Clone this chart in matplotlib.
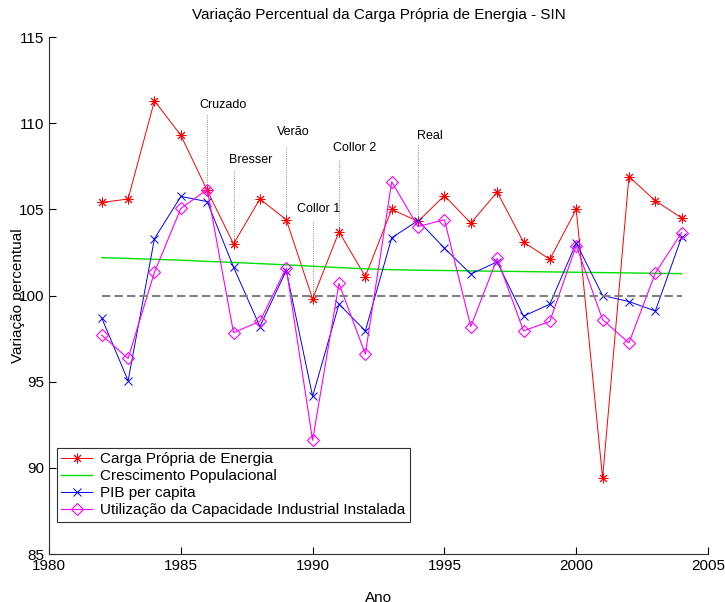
import matplotlib
matplotlib.use("Agg")
import matplotlib.pyplot as plt

plt.rcParams['font.family'] = ['Liberation Sans', 'DejaVu Sans']

# dados
anos = list(range(1982, 2005))

carga = [105.4, 105.6, 111.3, 109.3, 106.1, 103.0, 105.6, 104.4, 99.8, 103.7, 101.1,
         105.0, 104.3, 105.8, 104.2, 106.0, 103.1, 102.1, 105.0, 89.4, 106.9, 105.5, 104.5]
populacao = [102.2, 102.15, 102.1, 102.05, 101.98, 101.92, 101.85, 101.78, 101.7, 101.62, 101.55,
             101.5, 101.47, 101.45, 101.43, 101.41, 101.39, 101.37, 101.35, 101.33, 101.31, 101.29, 101.27]
pib = [98.7, 95.05, 103.3, 105.75, 105.45, 101.65, 98.2, 101.45, 94.15, 99.5, 97.95,
       103.35, 104.35, 102.75, 101.25, 101.95, 98.8, 99.5, 103.05, 100.0, 99.65, 99.1, 103.4]
capacidade = [97.7, 96.35, 101.35, 105.05, 106.15, 97.85, 98.5, 101.6, 91.6, 100.7, 96.6,
              106.6, 104.0, 104.4, 98.2, 102.15, 97.95, 98.5, 102.9, 98.6, 97.25, 101.3, 103.65]

# planos economicos: ano da linha, x do texto, y do texto, topo da linha
planos = ['Cruzado', 'Bresser', 'Verão', 'Collor 1', 'Collor 2', 'Real']
planos_ano = [1986, 1987, 1989, 1990, 1991, 1994]
planos_xtexto = [1985.7, 1986.83, 1988.63, 1989.42, 1990.79, 1993.95]
planos_ytexto = [111.08, 107.87, 109.46, 105.03, 108.55, 109.26]
planos_ytopo = [110.5, 107.25, 108.6, 104.25, 107.87, 108.75]

fig = plt.figure(figsize=(7.25, 6.02), dpi=100)
ax = fig.add_axes([0.0676, 0.0797, 0.9090, 0.8588])

ax.plot(anos, carga, color='#ff0000', lw=0.7, marker=(8, 2, 0), ms=7, mew=0.7,
        label='Carga Própria de Energia')
ax.plot(anos, populacao, color='#00e000', lw=1.0, label='Crescimento Populacional')
ax.plot(anos, pib, color='#0000ff', lw=0.7, marker='x', ms=6, mew=0.7,
        label='PIB per capita')
ax.plot(anos, capacidade, color='#ff00ff', lw=0.8, marker='D', ms=6.5, mew=0.8,
        mfc='none', label='Utilização da Capacidade Industrial Instalada')

# referencia de 100%
ax.plot([anos[0], anos[-1]], [100, 100], color='#808080', lw=1.5, ls='--', dashes=(4, 2))

for nome, ano, xt, yt, ytop in zip(planos, planos_ano, planos_xtexto, planos_ytexto, planos_ytopo):
    yfim = carga[anos.index(ano)]
    ax.plot([ano, ano], [ytop, yfim], color='#606060', lw=0.6, ls=':')
    ax.text(xt, yt, nome, fontsize=9, ha='left', va='center')

ax.set_xlim(1980, 2005)
ax.set_ylim(85, 115)
ax.set_xticks(range(1980, 2006, 5))
ax.set_yticks(range(85, 116, 5))
ax.tick_params(direction='in', length=5, labelsize=11, width=0.8)
ax.spines['top'].set_visible(False)
ax.spines['right'].set_visible(False)
for s in ['left', 'bottom']:
    ax.spines[s].set_linewidth(0.8)
    ax.spines[s].set_color('#303030')

ax.set_title('Variação Percentual da Carga Própria de Energia - SIN', fontsize=11, pad=13)
ax.set_xlabel('Ano', fontsize=11)
ax.xaxis.set_label_coords(0.5, -0.0716)
ax.set_ylabel('Variação percentual', fontsize=11)
ax.yaxis.set_label_coords(-0.037, 0.5)

leg = ax.legend(loc='upper left', bbox_to_anchor=(0.0117, 0.2056), borderaxespad=0,
                fontsize=11, handlelength=2.0, handletextpad=0.55, labelspacing=0.2,
                borderpad=0.3, fancybox=False, framealpha=1)
leg.get_frame().set_edgecolor('#303030')
leg.get_frame().set_linewidth(0.8)

fig.savefig('out.png', dpi=100)
